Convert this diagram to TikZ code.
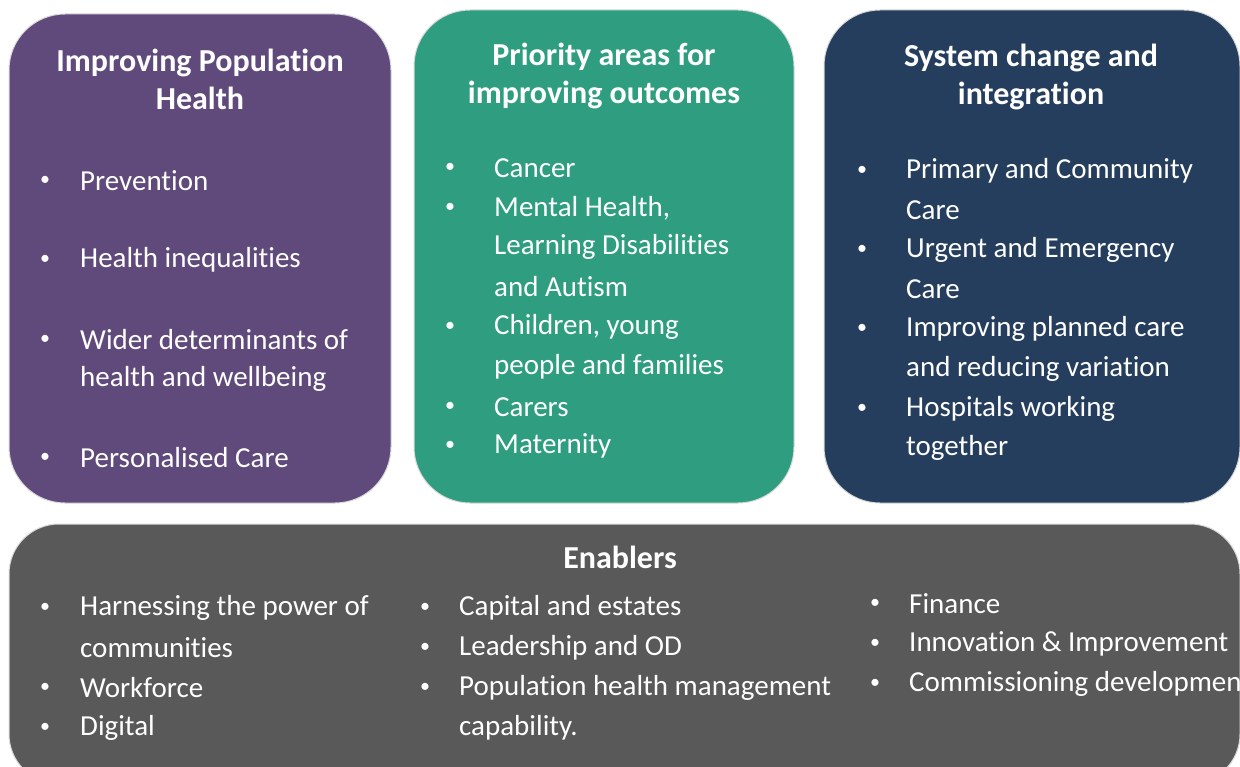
\documentclass[tikz,border=0pt]{standalone}
\usepackage{fontspec}
\setmainfont[Ligatures=NoCommon]{Carlito}
\definecolor{cpurple}{HTML}{5F4A7B}
\definecolor{cgreen}{HTML}{2F9E80}
\definecolor{cnavy}{HTML}{263E5E}
\definecolor{cgray}{HTML}{595959}
\begin{document}
\begin{tikzpicture}[x=1pt,y=-1pt,
  box/.style={rounded corners=56pt, draw=black!15, line width=1pt, inner sep=0pt},
  ttl/.style={text=white, font=\fontsize{32}{38}\selectfont\bfseries, align=center, inner sep=0pt},
  itm/.style={text=white, font=\fontsize{29}{32}\selectfont, anchor=west, inner sep=0pt},
  bul/.style={text=white, font=\fontsize{20}{24}\selectfont, inner sep=0pt}]
\useasboundingbox (0,0) rectangle (1240,767);
\clip (0,0) rectangle (1240,767);
% boxes
\node[box, fill=cpurple, minimum width=382pt, minimum height=489pt] (pop) at (200,258.5) {};
\node[box, fill=cgreen, minimum width=380pt, minimum height=493pt] (pri) at (604,256.5) {};
\node[box, fill=cnavy, minimum width=416pt, minimum height=493pt] (sys) at (1032,256.5) {};
\node[box, fill=cgray, minimum width=1231pt, minimum height=260pt, rounded corners=50pt] (ena) at (624.5,654) {};
% titles
\node[ttl] (popt) at (200,79) {Improving Population\\Health};
\node[ttl] (prit) at (604,76) {Priority areas for\\improving outcomes};
\node[ttl] (syst) at (1031,77) {System change and\\integration};
\node[ttl] (enat) at (620,557) {Enablers};
% purple items
\foreach \y [count=\i] in {181,260,340,458}{
  \node[bul] (pb\i) at (45,\y) {\textbullet};
}
\node[itm] (p1) at (80,181) {Prevention};
\node[itm] (p2) at (80,260) {Health inequalities};
\node[itm] (p3) at (80,340) {Wider determinants of};
\node[itm] (p4) at (80,379) {health and wellbeing};
\node[itm] (p5) at (80,458) {Personalised Care};
% green items
\foreach \y [count=\i] in {168,208,327,407,446}{
  \node[bul] (gb\i) at (450,\y) {\textbullet};
}
\node[itm] (g1) at (494,168) {Cancer};
\node[itm] (g2) at (494,208) {Mental Health,};
\node[itm] (g3) at (494,247) {Learning Disabilities};
\node[itm] (g4) at (494,287) {and Autism};
\node[itm] (g5) at (494,327) {Children, young};
\node[itm] (g6) at (494,367) {people and families};
\node[itm] (g7) at (494,407) {Carers};
\node[itm] (g8) at (494,446) {Maternity};
% navy items
\foreach \y [count=\i] in {171,250,329,409}{
  \node[bul] (nb\i) at (862,\y) {\textbullet};
}
\node[itm] (n1) at (906,171) {Primary and Community};
\node[itm] (n2) at (906,210) {Care};
\node[itm] (n3) at (906,250) {Urgent and Emergency};
\node[itm] (n4) at (906,289) {Care};
\node[itm] (n5) at (906,329) {Improving planned care};
\node[itm] (n6) at (906,369) {and reducing variation};
\node[itm] (n7) at (906,409) {Hospitals working};
\node[itm] (n8) at (906,448) {together};
% enablers col 1
\foreach \y [count=\i] in {608,688,728}{
  \node[bul] (eab\i) at (45,\y) {\textbullet};
}
\node[itm] (ea1) at (80,608) {Harnessing the power of};
\node[itm] (ea2) at (80,648) {communities};
\node[itm] (ea3) at (80,688) {Workforce};
\node[itm] (ea4) at (80,728) {Digital};
% col 2
\foreach \y [count=\i] in {608,648,688}{
  \node[bul] (ebb\i) at (425,\y) {\textbullet};
}
\node[itm] (eb1) at (459,608) {Capital and estates};
\node[itm] (eb2) at (459,648) {Leadership and OD};
\node[itm] (eb3) at (459,688) {Population health management};
\node[itm] (eb4) at (459,728) {capability.};
% col 3
\foreach \y [count=\i] in {604,644,684}{
  \node[bul] (ecb\i) at (875,\y) {\textbullet};
}
\node[itm] (ec1) at (909,604) {Finance};
\node[itm] (ec2) at (909,644) {Innovation \& Improvement};
\node[itm] (ec3) at (909,684) {Commissioning development};
\end{tikzpicture}
\end{document}
